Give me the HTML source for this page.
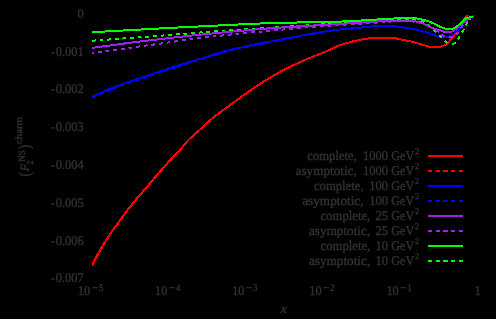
<!DOCTYPE html>
<html>
<head>
<meta charset="utf-8">
<title>plot</title>
<style>
html,body{margin:0;padding:0;background:#000;}
body{width:496px;height:319px;overflow:hidden;font-family:"Liberation Serif",serif;}
svg{display:block;}
.t{font-family:"Liberation Serif",serif;font-size:13.3px;fill:#363233;text-rendering:geometricPrecision;stroke:#363233;stroke-width:0.35px;}
.i{font-style:italic;}
.g{opacity:0.999;}
.c path,.c line{shape-rendering:crispEdges;}
</style>
</head>
<body>
<svg width="496" height="319" viewBox="0 0 496 319">
<rect width="496" height="319" fill="#000"/>
<g class="c">
<path d="M466 15h3v1h-3zM465 16h3v1h-3zM464 17h3v1h-3zM463 18h3v1h-3zM463 19h2v1h-2zM462 20h2v1h-2zM461 21h3v1h-3zM461 22h2v1h-2zM460 23h3v1h-3zM460 24h2v1h-2zM460 25h2v1h-2zM459 26h2v1h-2zM459 27h2v1h-2zM458 28h2v1h-2zM457 29h3v1h-3zM457 30h2v1h-2zM456 31h2v1h-2zM455 32h3v1h-3zM454 33h3v1h-3zM454 34h2v1h-2zM453 35h2v1h-2zM452 36h3v1h-3zM368 37h29v1h-29zM451 37h3v1h-3zM362 38h39v1h-39zM450 38h3v1h-3zM357 39h11v1h-11zM396 39h10v1h-10zM449 39h3v1h-3zM352 40h10v1h-10zM401 40h10v1h-10zM449 40h2v1h-2zM349 41h8v1h-8zM406 41h9v1h-9zM448 41h2v1h-2zM345 42h8v1h-8zM411 42h7v1h-7zM447 42h3v1h-3zM342 43h7v1h-7zM415 43h7v1h-7zM446 43h3v1h-3zM339 44h6v1h-6zM418 44h7v1h-7zM444 44h4v1h-4zM336 45h6v1h-6zM421 45h8v1h-8zM441 45h5v1h-5zM334 46h5v1h-5zM425 46h19v1h-19zM332 47h5v1h-5zM428 47h13v1h-13zM330 48h5v1h-5zM328 49h5v1h-5zM326 50h5v1h-5zM323 51h5v1h-5zM321 52h5v1h-5zM318 53h6v1h-6zM316 54h5v1h-5zM313 55h6v1h-6zM311 56h5v1h-5zM308 57h5v1h-5zM306 58h5v1h-5zM303 59h5v1h-5zM301 60h5v1h-5zM299 61h5v1h-5zM297 62h5v1h-5zM295 63h4v1h-4zM292 64h5v1h-5zM290 65h5v1h-5zM288 66h5v1h-5zM286 67h5v1h-5zM284 68h5v1h-5zM282 69h5v1h-5zM280 70h5v1h-5zM279 71h4v1h-4zM277 72h4v1h-4zM275 73h4v1h-4zM273 74h4v1h-4zM272 75h4v1h-4zM270 76h4v1h-4zM268 77h4v1h-4zM267 78h3v1h-3zM265 79h4v1h-4zM263 80h4v1h-4zM262 81h4v1h-4zM260 82h4v1h-4zM259 83h4v1h-4zM257 84h4v1h-4zM256 85h3v1h-3zM254 86h4v1h-4zM253 87h3v1h-3zM251 88h4v1h-4zM250 89h3v1h-3zM248 90h4v1h-4zM247 91h3v1h-3zM246 92h3v1h-3zM244 93h4v1h-4zM243 94h3v1h-3zM241 95h4v1h-4zM240 96h3v1h-3zM239 97h3v1h-3zM237 98h4v1h-4zM236 99h3v1h-3zM235 100h3v1h-3zM233 101h4v1h-4zM232 102h3v1h-3zM230 103h4v1h-4zM229 104h3v1h-3zM228 105h3v1h-3zM226 106h4v1h-4zM225 107h3v1h-3zM224 108h3v1h-3zM222 109h4v1h-4zM221 110h3v1h-3zM219 111h4v1h-4zM218 112h3v1h-3zM217 113h3v1h-3zM215 114h4v1h-4zM214 115h3v1h-3zM213 116h3v1h-3zM212 117h3v1h-3zM211 118h3v1h-3zM209 119h3v1h-3zM208 120h3v1h-3zM207 121h3v1h-3zM206 122h3v1h-3zM205 123h3v1h-3zM204 124h3v1h-3zM203 125h3v1h-3zM202 126h3v1h-3zM201 127h3v1h-3zM200 128h3v1h-3zM199 129h3v1h-3zM197 130h3v1h-3zM196 131h3v1h-3zM195 132h3v1h-3zM194 133h3v1h-3zM193 134h3v1h-3zM192 135h3v1h-3zM191 136h3v1h-3zM190 137h2v1h-2zM189 138h2v1h-2zM188 139h2v1h-2zM187 140h2v1h-2zM186 141h2v1h-2zM185 142h3v1h-3zM184 143h3v1h-3zM183 144h3v1h-3zM182 145h3v1h-3zM182 146h2v1h-2zM181 147h2v1h-2zM180 148h2v1h-2zM179 149h3v1h-3zM178 150h3v1h-3zM177 151h3v1h-3zM176 152h3v1h-3zM175 153h3v1h-3zM174 154h3v1h-3zM173 155h3v1h-3zM172 156h3v1h-3zM171 157h3v1h-3zM170 158h3v1h-3zM169 159h3v1h-3zM168 160h3v1h-3zM167 161h3v1h-3zM167 162h2v1h-2zM166 163h2v1h-2zM165 164h2v1h-2zM164 165h2v1h-2zM163 166h3v1h-3zM162 167h3v1h-3zM161 168h3v1h-3zM160 169h3v1h-3zM159 170h3v1h-3zM159 171h2v1h-2zM158 172h2v1h-2zM157 173h2v1h-2zM156 174h3v1h-3zM155 175h3v1h-3zM154 176h3v1h-3zM153 177h3v1h-3zM153 178h2v1h-2zM152 179h2v1h-2zM151 180h3v1h-3zM150 181h3v1h-3zM149 182h3v1h-3zM148 183h3v1h-3zM148 184h2v1h-2zM147 185h2v1h-2zM146 186h3v1h-3zM145 187h3v1h-3zM144 188h3v1h-3zM143 189h3v1h-3zM142 190h3v1h-3zM142 191h2v1h-2zM141 192h2v1h-2zM140 193h2v1h-2zM139 194h3v1h-3zM138 195h3v1h-3zM137 196h3v1h-3zM136 197h3v1h-3zM135 198h3v1h-3zM135 199h2v1h-2zM134 200h2v1h-2zM133 201h3v1h-3zM132 202h3v1h-3zM131 203h3v1h-3zM131 204h2v1h-2zM130 205h2v1h-2zM129 206h3v1h-3zM128 207h3v1h-3zM127 208h3v1h-3zM127 209h2v1h-2zM126 210h2v1h-2zM125 211h3v1h-3zM124 212h3v1h-3zM124 213h2v1h-2zM123 214h2v1h-2zM122 215h3v1h-3zM121 216h3v1h-3zM121 217h2v1h-2zM120 218h2v1h-2zM119 219h3v1h-3zM119 220h2v1h-2zM118 221h2v1h-2zM117 222h3v1h-3zM116 223h3v1h-3zM116 224h2v1h-2zM115 225h2v1h-2zM114 226h3v1h-3zM113 227h3v1h-3zM113 228h2v1h-2zM112 229h2v1h-2zM111 230h3v1h-3zM111 231h2v1h-2zM110 232h2v1h-2zM109 233h3v1h-3zM109 234h2v1h-2zM108 235h2v1h-2zM107 236h3v1h-3zM107 237h2v1h-2zM106 238h2v1h-2zM105 239h3v1h-3zM105 240h2v1h-2zM104 241h2v1h-2zM103 242h3v1h-3zM103 243h2v1h-2zM102 244h3v1h-3zM102 245h2v1h-2zM101 246h2v1h-2zM100 247h3v1h-3zM100 248h2v1h-2zM99 249h3v1h-3zM99 250h2v1h-2zM98 251h2v1h-2zM98 252h2v1h-2zM97 253h2v1h-2zM96 254h3v1h-3zM96 255h2v1h-2zM95 256h3v1h-3zM95 257h2v1h-2zM94 258h3v1h-3zM94 259h2v1h-2zM93 260h3v1h-3zM93 261h2v1h-2zM92 262h3v1h-3zM92 263h2v1h-2zM92 264h2v1h-2z" fill="#ff0000"/>
<path d="M466 15h3v1h-3zM465 16h3v1h-3zM466 17h1v1h-1zM462 20h2v1h-2zM461 21h3v1h-3zM461 22h2v1h-2zM461 23h2v1h-2zM459 27h2v1h-2zM458 28h2v1h-2zM457 29h3v1h-3zM458 30h1v1h-1zM454 33h2v1h-2zM454 34h2v1h-2zM453 35h2v1h-2zM453 36h2v1h-2zM368 37h3v1h-3zM375 37h4v1h-4zM382 37h4v1h-4zM390 37h4v1h-4zM362 38h1v1h-1zM367 38h4v1h-4zM375 38h4v1h-4zM382 38h4v1h-4zM390 38h4v1h-4zM398 38h3v1h-3zM360 39h3v1h-3zM367 39h1v1h-1zM397 39h4v1h-4zM405 39h1v1h-1zM449 39h2v1h-2zM352 40h4v1h-4zM360 40h2v1h-2zM405 40h4v1h-4zM449 40h2v1h-2zM352 41h4v1h-4zM406 41h3v1h-3zM413 41h2v1h-2zM448 41h2v1h-2zM345 42h4v1h-4zM352 42h1v1h-1zM412 42h4v1h-4zM449 42h1v1h-1zM345 43h4v1h-4zM415 43h1v1h-1zM420 43h2v1h-2zM339 44h2v1h-2zM420 44h4v1h-4zM444 44h1v1h-1zM337 45h4v1h-4zM421 45h2v1h-2zM427 45h2v1h-2zM442 45h4v1h-4zM338 46h1v1h-1zM427 46h4v1h-4zM435 46h3v1h-3zM442 46h2v1h-2zM332 47h2v1h-2zM428 47h3v1h-3zM435 47h3v1h-3zM330 48h5v1h-5zM331 49h2v1h-2zM326 50h1v1h-1zM323 51h5v1h-5zM324 52h2v1h-2zM318 53h2v1h-2zM316 54h5v1h-5zM317 55h2v1h-2zM311 56h2v1h-2zM309 57h5v1h-5zM310 58h1v1h-1zM304 59h2v1h-2zM302 60h4v1h-4zM303 61h1v1h-1zM297 62h2v1h-2zM295 63h5v1h-5zM296 64h1v1h-1zM291 65h1v1h-1zM289 66h4v1h-4zM289 67h2v1h-2zM283 69h3v1h-3zM282 70h3v1h-3zM282 71h1v1h-1zM277 72h2v1h-2zM275 73h4v1h-4zM275 74h3v1h-3zM270 76h2v1h-2zM269 77h3v1h-3zM269 78h2v1h-2zM264 80h2v1h-2zM262 81h4v1h-4zM262 82h2v1h-2zM258 84h1v1h-1zM256 85h4v1h-4zM256 86h2v1h-2zM252 88h1v1h-1zM250 89h3v1h-3zM249 90h3v1h-3zM250 91h1v1h-1zM245 93h2v1h-2zM243 94h4v1h-4zM244 95h1v1h-1zM239 97h1v1h-1zM238 98h3v1h-3zM237 99h3v1h-3zM232 102h2v1h-2zM231 103h3v1h-3zM231 104h2v1h-2zM227 106h1v1h-1zM225 107h4v1h-4zM225 108h2v1h-2zM225 109h1v1h-1zM220 111h2v1h-2zM219 112h3v1h-3zM219 113h2v1h-2zM215 115h1v1h-1zM213 116h3v1h-3zM212 117h3v1h-3zM213 118h1v1h-1zM209 120h1v1h-1zM208 121h3v1h-3zM207 122h3v1h-3zM203 125h1v1h-1zM202 126h3v1h-3zM201 127h3v1h-3zM202 128h1v1h-1zM197 131h2v1h-2zM196 132h3v1h-3zM196 133h1v1h-1zM192 135h1v1h-1zM191 136h3v1h-3zM190 137h3v1h-3zM190 138h2v1h-2zM186 141h2v1h-2zM185 142h3v1h-3zM184 143h3v1h-3zM181 147h2v1h-2zM180 148h3v1h-3zM180 149h2v1h-2zM176 152h1v1h-1zM175 153h3v1h-3zM175 154h2v1h-2zM175 155h1v1h-1zM171 158h2v1h-2zM170 159h3v1h-3zM169 160h3v1h-3zM170 161h1v1h-1zM166 163h1v1h-1zM165 164h3v1h-3zM164 165h3v1h-3zM164 166h2v1h-2zM161 169h1v1h-1zM160 170h3v1h-3zM159 171h3v1h-3zM160 172h1v1h-1zM156 175h1v1h-1zM155 176h2v1h-2zM154 177h3v1h-3zM155 178h1v1h-1zM151 181h2v1h-2zM150 182h2v1h-2zM149 183h2v1h-2zM150 184h1v1h-1zM146 186h1v1h-1zM145 187h3v1h-3zM145 188h2v1h-2zM144 189h2v1h-2zM141 192h1v1h-1zM140 193h3v1h-3zM139 194h3v1h-3zM140 195h1v1h-1zM136 198h1v1h-1zM135 199h3v1h-3zM134 200h3v1h-3zM135 201h1v1h-1zM131 204h2v1h-2zM130 205h3v1h-3zM129 206h3v1h-3zM130 207h1v1h-1zM126 210h2v1h-2zM126 211h2v1h-2zM125 212h2v1h-2zM126 213h1v1h-1zM122 216h1v1h-1zM121 217h3v1h-3zM120 218h3v1h-3zM121 219h1v1h-1zM118 222h1v1h-1zM117 223h2v1h-2zM116 224h3v1h-3zM116 225h2v1h-2zM113 228h1v1h-1zM112 229h3v1h-3zM112 230h2v1h-2zM111 231h2v1h-2zM108 235h2v1h-2zM108 236h2v1h-2zM107 237h2v1h-2zM108 238h1v1h-1zM104 241h2v1h-2zM104 242h2v1h-2zM103 243h3v1h-3zM103 244h2v1h-2zM100 248h3v1h-3zM100 249h2v1h-2zM99 250h2v1h-2zM100 251h1v1h-1zM97 254h1v1h-1zM96 255h3v1h-3zM96 256h2v1h-2zM95 257h3v1h-3zM93 261h2v1h-2zM93 262h2v1h-2zM92 263h2v1h-2zM92 264h2v1h-2zM92 265h1v1h-1z" fill="#ff0000"/>
<path d="M469 16h2v1h-2zM468 17h3v1h-3zM467 18h3v1h-3zM466 19h2v1h-2zM465 20h2v1h-2zM464 21h3v1h-3zM463 22h3v1h-3zM462 23h3v1h-3zM461 24h3v1h-3zM371 25h25v1h-25zM461 25h2v1h-2zM362 26h41v1h-41zM460 26h2v1h-2zM351 27h20v1h-20zM396 27h14v1h-14zM459 27h3v1h-3zM340 28h22v1h-22zM403 28h12v1h-12zM458 28h3v1h-3zM332 29h19v1h-19zM410 29h9v1h-9zM457 29h3v1h-3zM325 30h15v1h-15zM415 30h8v1h-8zM456 30h3v1h-3zM319 31h13v1h-13zM419 31h8v1h-8zM455 31h3v1h-3zM313 32h12v1h-12zM423 32h7v1h-7zM454 32h2v1h-2zM308 33h11v1h-11zM427 33h6v1h-6zM452 33h3v1h-3zM302 34h12v1h-12zM430 34h6v1h-6zM451 34h3v1h-3zM297 35h11v1h-11zM433 35h6v1h-6zM449 35h4v1h-4zM291 36h11v1h-11zM435 36h16v1h-16zM286 37h11v1h-11zM438 37h11v1h-11zM281 38h11v1h-11zM276 39h10v1h-10zM271 40h10v1h-10zM265 41h11v1h-11zM260 42h11v1h-11zM255 43h11v1h-11zM250 44h10v1h-10zM245 45h10v1h-10zM241 46h9v1h-9zM236 47h10v1h-10zM232 48h9v1h-9zM228 49h8v1h-8zM224 50h8v1h-8zM221 51h7v1h-7zM217 52h7v1h-7zM214 53h7v1h-7zM211 54h7v1h-7zM208 55h7v1h-7zM205 56h6v1h-6zM202 57h6v1h-6zM198 58h7v1h-7zM195 59h7v1h-7zM191 60h7v1h-7zM188 61h7v1h-7zM185 62h7v1h-7zM181 63h7v1h-7zM178 64h7v1h-7zM175 65h7v1h-7zM172 66h7v1h-7zM169 67h6v1h-6zM166 68h6v1h-6zM163 69h6v1h-6zM160 70h6v1h-6zM157 71h6v1h-6zM154 72h6v1h-6zM151 73h6v1h-6zM148 74h6v1h-6zM145 75h6v1h-6zM142 76h6v1h-6zM139 77h6v1h-6zM136 78h6v1h-6zM133 79h6v1h-6zM130 80h6v1h-6zM127 81h6v1h-6zM124 82h6v1h-6zM121 83h6v1h-6zM119 84h5v1h-5zM116 85h6v1h-6zM113 86h6v1h-6zM111 87h5v1h-5zM108 88h6v1h-6zM106 89h5v1h-5zM104 90h5v1h-5zM101 91h5v1h-5zM99 92h5v1h-5zM97 93h5v1h-5zM95 94h4v1h-4zM92 95h5v1h-5zM92 96h3v1h-3z" fill="#0000ff"/>
<path d="M469 16h2v1h-2zM470 17h1v1h-1zM465 20h2v1h-2zM464 21h3v1h-3zM464 22h2v1h-2zM372 25h4v1h-4zM380 25h4v1h-4zM387 25h4v1h-4zM395 25h1v1h-1zM365 26h3v1h-3zM372 26h4v1h-4zM380 26h4v1h-4zM387 26h4v1h-4zM395 26h4v1h-4zM460 26h2v1h-2zM357 27h4v1h-4zM365 27h4v1h-4zM396 27h3v1h-3zM403 27h3v1h-3zM459 27h3v1h-3zM342 28h4v1h-4zM349 28h4v1h-4zM357 28h4v1h-4zM403 28h3v1h-3zM410 28h4v1h-4zM459 28h2v1h-2zM334 29h4v1h-4zM342 29h4v1h-4zM350 29h3v1h-3zM410 29h4v1h-4zM418 29h1v1h-1zM327 30h4v1h-4zM334 30h4v1h-4zM418 30h3v1h-3zM321 31h2v1h-2zM327 31h4v1h-4zM419 31h2v1h-2zM425 31h2v1h-2zM455 31h2v1h-2zM319 32h4v1h-4zM425 32h4v1h-4zM454 32h2v1h-2zM312 33h4v1h-4zM319 33h2v1h-2zM427 33h2v1h-2zM453 33h2v1h-2zM304 34h4v1h-4zM312 34h3v1h-3zM432 34h4v1h-4zM298 35h2v1h-2zM304 35h4v1h-4zM433 35h3v1h-3zM449 35h1v1h-1zM297 36h4v1h-4zM440 36h3v1h-3zM447 36h4v1h-4zM289 37h4v1h-4zM297 37h2v1h-2zM439 37h4v1h-4zM447 37h2v1h-2zM283 38h3v1h-3zM289 38h4v1h-4zM282 39h4v1h-4zM274 40h4v1h-4zM282 40h1v1h-1zM268 41h3v1h-3zM274 41h4v1h-4zM267 42h4v1h-4zM259 43h4v1h-4zM267 43h1v1h-1zM253 44h3v1h-3zM259 44h4v1h-4zM252 45h4v1h-4zM244 46h4v1h-4zM252 46h1v1h-1zM239 47h2v1h-2zM245 47h3v1h-3zM237 48h4v1h-4zM230 49h3v1h-3zM237 49h2v1h-2zM230 50h4v1h-4zM223 51h3v1h-3zM222 52h4v1h-4zM216 53h3v1h-3zM215 54h4v1h-4zM210 55h1v1h-1zM215 55h2v1h-2zM208 56h4v1h-4zM208 57h2v1h-2zM201 58h3v1h-3zM200 59h4v1h-4zM194 60h3v1h-3zM193 61h4v1h-4zM187 62h2v1h-2zM193 62h1v1h-1zM186 63h4v1h-4zM181 64h1v1h-1zM186 64h2v1h-2zM178 65h4v1h-4zM179 66h2v1h-2zM171 67h4v1h-4zM171 68h4v1h-4zM165 69h3v1h-3zM164 70h4v1h-4zM159 71h1v1h-1zM164 71h2v1h-2zM157 72h4v1h-4zM157 73h3v1h-3zM150 74h3v1h-3zM150 75h4v1h-4zM144 76h2v1h-2zM150 76h1v1h-1zM142 77h4v1h-4zM138 78h1v1h-1zM143 78h2v1h-2zM135 79h4v1h-4zM135 80h4v1h-4zM130 81h2v1h-2zM128 82h4v1h-4zM128 83h2v1h-2zM121 84h3v1h-3zM121 85h3v1h-3zM116 86h1v1h-1zM121 86h1v1h-1zM113 87h4v1h-4zM114 88h2v1h-2zM109 89h1v1h-1zM106 90h5v1h-5zM107 91h2v1h-2zM102 92h1v1h-1zM99 93h5v1h-5zM100 94h2v1h-2zM95 95h1v1h-1zM93 96h3v1h-3zM92 97h3v1h-3z" fill="#0000ff"/>
<path d="M470 16h2v1h-2zM469 17h3v1h-3zM389 18h4v1h-4zM397 18h4v1h-4zM405 18h4v1h-4zM412 18h4v1h-4zM469 18h2v1h-2zM382 19h4v1h-4zM389 19h4v1h-4zM397 19h4v1h-4zM405 19h4v1h-4zM412 19h4v1h-4zM468 19h3v1h-3zM367 20h3v1h-3zM374 20h4v1h-4zM382 20h4v1h-4zM421 20h2v1h-2zM351 21h4v1h-4zM359 21h4v1h-4zM367 21h3v1h-3zM374 21h4v1h-4zM420 21h5v1h-5zM336 22h4v1h-4zM344 22h4v1h-4zM351 22h4v1h-4zM359 22h4v1h-4zM423 22h1v1h-1zM466 22h2v1h-2zM321 23h4v1h-4zM328 23h4v1h-4zM336 23h4v1h-4zM344 23h4v1h-4zM466 23h2v1h-2zM306 24h3v1h-3zM313 24h4v1h-4zM321 24h4v1h-4zM329 24h3v1h-3zM428 24h1v1h-1zM465 24h2v1h-2zM290 25h4v1h-4zM298 25h4v1h-4zM306 25h3v1h-3zM313 25h4v1h-4zM428 25h2v1h-2zM466 25h1v1h-1zM275 26h4v1h-4zM283 26h3v1h-3zM290 26h4v1h-4zM298 26h4v1h-4zM428 26h3v1h-3zM260 27h4v1h-4zM267 27h4v1h-4zM275 27h4v1h-4zM283 27h4v1h-4zM429 27h2v1h-2zM244 28h4v1h-4zM252 28h4v1h-4zM260 28h4v1h-4zM267 28h4v1h-4zM229 29h4v1h-4zM237 29h4v1h-4zM245 29h3v1h-3zM252 29h4v1h-4zM433 29h2v1h-2zM463 29h2v1h-2zM214 30h4v1h-4zM222 30h3v1h-3zM229 30h4v1h-4zM237 30h4v1h-4zM433 30h3v1h-3zM462 30h2v1h-2zM200 31h2v1h-2zM206 31h4v1h-4zM214 31h4v1h-4zM222 31h3v1h-3zM434 31h3v1h-3zM461 31h3v1h-3zM191 32h4v1h-4zM199 32h4v1h-4zM206 32h4v1h-4zM435 32h1v1h-1zM462 32h1v1h-1zM176 33h4v1h-4zM183 33h4v1h-4zM191 33h4v1h-4zM199 33h1v1h-1zM163 34h1v1h-1zM168 34h4v1h-4zM176 34h4v1h-4zM184 34h3v1h-3zM153 35h4v1h-4zM161 35h3v1h-3zM168 35h4v1h-4zM439 35h2v1h-2zM138 36h3v1h-3zM145 36h4v1h-4zM153 36h4v1h-4zM161 36h2v1h-2zM439 36h3v1h-3zM458 36h2v1h-2zM123 37h3v1h-3zM130 37h4v1h-4zM138 37h4v1h-4zM145 37h4v1h-4zM440 37h2v1h-2zM458 37h2v1h-2zM109 38h2v1h-2zM115 38h4v1h-4zM122 38h4v1h-4zM130 38h4v1h-4zM457 38h3v1h-3zM95 39h1v1h-1zM100 39h3v1h-3zM107 39h4v1h-4zM115 39h4v1h-4zM458 39h1v1h-1zM92 40h4v1h-4zM100 40h3v1h-3zM107 40h2v1h-2zM445 40h1v1h-1zM92 41h3v1h-3zM444 41h3v1h-3zM445 42h3v1h-3zM454 42h2v1h-2zM446 43h1v1h-1zM452 43h4v1h-4zM452 44h2v1h-2z" fill="#00ff00"/>
<path d="M473 15h1v1h-1zM470 16h4v1h-4zM468 17h5v1h-5zM467 18h4v1h-4zM466 19h3v1h-3zM376 20h40v1h-40zM464 20h4v1h-4zM361 21h59v1h-59zM463 21h3v1h-3zM347 22h29v1h-29zM416 22h7v1h-7zM462 22h3v1h-3zM331 23h30v1h-30zM420 23h5v1h-5zM461 23h3v1h-3zM313 24h34v1h-34zM423 24h4v1h-4zM460 24h3v1h-3zM296 25h35v1h-35zM425 25h4v1h-4zM458 25h4v1h-4zM281 26h32v1h-32zM427 26h4v1h-4zM457 26h3v1h-3zM267 27h30v1h-30zM429 27h5v1h-5zM456 27h3v1h-3zM255 28h26v1h-26zM431 28h6v1h-6zM455 28h3v1h-3zM244 29h23v1h-23zM433 29h8v1h-8zM453 29h4v1h-4zM233 30h22v1h-22zM437 30h7v1h-7zM452 30h3v1h-3zM222 31h22v1h-22zM441 31h13v1h-13zM212 32h21v1h-21zM443 32h9v1h-9zM202 33h20v1h-20zM192 34h20v1h-20zM183 35h19v1h-19zM174 36h18v1h-18zM165 37h18v1h-18zM157 38h17v1h-17zM148 39h17v1h-17zM140 40h17v1h-17zM132 41h16v1h-16zM124 42h16v1h-16zM117 43h15v1h-15zM110 44h15v1h-15zM102 45h15v1h-15zM95 46h15v1h-15zM92 47h10v1h-10zM92 48h3v1h-3z" fill="#a020f0"/>
<path d="M467 19h1v1h-1zM390 20h3v1h-3zM397 20h4v1h-4zM405 20h3v1h-3zM412 20h2v1h-2zM466 20h2v1h-2zM377 21h1v1h-1zM381 21h4v1h-4zM389 21h4v1h-4zM397 21h4v1h-4zM405 21h3v1h-3zM412 21h2v1h-2zM416 21h3v1h-3zM465 21h3v1h-3zM366 22h4v1h-4zM374 22h4v1h-4zM382 22h3v1h-3zM389 22h2v1h-2zM413 22h1v1h-1zM416 22h4v1h-4zM465 22h2v1h-2zM346 23h1v1h-1zM351 23h3v1h-3zM358 23h4v1h-4zM366 23h4v1h-4zM374 23h3v1h-3zM419 23h1v1h-1zM424 23h1v1h-1zM335 24h4v1h-4zM343 24h4v1h-4zM351 24h4v1h-4zM358 24h4v1h-4zM423 24h5v1h-5zM462 24h1v1h-1zM320 25h4v1h-4zM328 25h3v1h-3zM335 25h4v1h-4zM343 25h3v1h-3zM425 25h2v1h-2zM462 25h2v1h-2zM305 26h3v1h-3zM312 26h4v1h-4zM320 26h4v1h-4zM328 26h3v1h-3zM429 26h2v1h-2zM461 26h2v1h-2zM297 27h4v1h-4zM305 27h3v1h-3zM312 27h4v1h-4zM429 27h4v1h-4zM460 27h3v1h-3zM283 28h2v1h-2zM289 28h4v1h-4zM297 28h4v1h-4zM431 28h2v1h-2zM274 29h4v1h-4zM282 29h3v1h-3zM289 29h4v1h-4zM436 29h1v1h-1zM266 30h4v1h-4zM274 30h4v1h-4zM282 30h1v1h-1zM435 30h4v1h-4zM251 31h4v1h-4zM259 31h3v1h-3zM266 31h4v1h-4zM436 31h3v1h-3zM243 32h4v1h-4zM251 32h4v1h-4zM259 32h3v1h-3zM438 32h1v1h-1zM457 32h2v1h-2zM231 33h1v1h-1zM235 33h4v1h-4zM243 33h4v1h-4zM456 33h3v1h-3zM222 34h2v1h-2zM228 34h4v1h-4zM236 34h3v1h-3zM441 34h2v1h-2zM456 34h2v1h-2zM213 35h3v1h-3zM220 35h4v1h-4zM228 35h3v1h-3zM441 35h4v1h-4zM205 36h4v1h-4zM213 36h3v1h-3zM220 36h2v1h-2zM443 36h2v1h-2zM449 36h4v1h-4zM197 37h4v1h-4zM205 37h4v1h-4zM449 37h4v1h-4zM189 38h4v1h-4zM197 38h4v1h-4zM182 39h4v1h-4zM190 39h3v1h-3zM175 40h3v1h-3zM182 40h4v1h-4zM168 41h2v1h-2zM174 41h4v1h-4zM161 42h2v1h-2zM167 42h3v1h-3zM174 42h1v1h-1zM153 43h2v1h-2zM159 43h4v1h-4zM167 43h1v1h-1zM146 44h1v1h-1zM151 44h4v1h-4zM159 44h2v1h-2zM139 45h1v1h-1zM144 45h4v1h-4zM151 45h3v1h-3zM136 46h4v1h-4zM144 46h2v1h-2zM128 47h4v1h-4zM136 47h3v1h-3zM121 48h4v1h-4zM129 48h3v1h-3zM113 49h4v1h-4zM121 49h4v1h-4zM105 50h4v1h-4zM113 50h4v1h-4zM98 51h4v1h-4zM106 51h3v1h-3zM92 52h2v1h-2zM98 52h4v1h-4zM92 53h2v1h-2z" fill="#a020f0"/>
<path d="M469 16h4v1h-4zM394 17h23v1h-23zM465 17h8v1h-8zM377 18h45v1h-45zM464 18h5v1h-5zM361 19h33v1h-33zM417 19h9v1h-9zM463 19h3v1h-3zM342 20h35v1h-35zM422 20h7v1h-7zM462 20h3v1h-3zM297 21h64v1h-64zM426 21h6v1h-6zM461 21h3v1h-3zM260 22h82v1h-82zM429 22h5v1h-5zM460 22h3v1h-3zM238 23h59v1h-59zM431 23h5v1h-5zM459 23h3v1h-3zM218 24h42v1h-42zM434 24h4v1h-4zM458 24h3v1h-3zM198 25h40v1h-40zM436 25h4v1h-4zM456 25h3v1h-3zM178 26h40v1h-40zM437 26h5v1h-5zM455 26h3v1h-3zM159 27h39v1h-39zM439 27h6v1h-6zM453 27h4v1h-4zM141 28h37v1h-37zM442 28h13v1h-13zM123 29h36v1h-36zM445 29h8v1h-8zM105 30h36v1h-36zM92 31h31v1h-31zM92 32h13v1h-13z" fill="#00ff00"/>
</g>
<g class="c">
<path d="M428 155h35v2h-35z" fill="#ff0000"/>
<path d="M428 170h4v2h-4zM436 170h4v2h-4zM443 170h5v2h-5zM451 170h4v2h-4zM459 170h4v2h-4z" fill="#ff0000"/>
<path d="M428 185h35v2h-35z" fill="#0000ff"/>
<path d="M428 200h4v2h-4zM436 200h4v2h-4zM443 200h5v2h-5zM451 200h4v2h-4zM459 200h4v2h-4z" fill="#0000ff"/>
<path d="M428 215h35v2h-35z" fill="#a020f0"/>
<path d="M428 230h4v2h-4zM436 230h4v2h-4zM443 230h5v2h-5zM451 230h4v2h-4zM459 230h4v2h-4z" fill="#a020f0"/>
<path d="M428 245h35v2h-35z" fill="#00ff00"/>
<path d="M428 260h4v2h-4zM436 260h4v2h-4zM443 260h5v2h-5zM451 260h4v2h-4zM459 260h4v2h-4z" fill="#00ff00"/>
</g>
<g class="g">
<text transform="translate(307.30,159.80) scale(0.94,1.0)" class="t" style="font-size:13.3px" textLength="52.77" lengthAdjust="spacingAndGlyphs">complete,</text>
<text transform="translate(388.10,159.80) scale(0.945,1.0)" class="t" style="font-size:13.3px" text-anchor="end">1000</text>
<text transform="translate(391.20,159.80) scale(0.91,1.0)" class="t" style="font-size:13.3px" textLength="25.27" lengthAdjust="spacingAndGlyphs">GeV</text>
<text transform="translate(414.90,153.80) scale(0.95,1.0)" class="t" style="font-size:8.6px">2</text>
<text transform="translate(295.60,174.80) scale(0.94,1.0)" class="t" style="font-size:13.3px" textLength="65.21" lengthAdjust="spacingAndGlyphs">asymptotic,</text>
<text transform="translate(388.10,174.80) scale(0.945,1.0)" class="t" style="font-size:13.3px" text-anchor="end">1000</text>
<text transform="translate(391.20,174.80) scale(0.91,1.0)" class="t" style="font-size:13.3px" textLength="25.27" lengthAdjust="spacingAndGlyphs">GeV</text>
<text transform="translate(414.90,168.80) scale(0.95,1.0)" class="t" style="font-size:8.6px">2</text>
<text transform="translate(313.95,189.80) scale(0.94,1.0)" class="t" style="font-size:13.3px" textLength="52.77" lengthAdjust="spacingAndGlyphs">complete,</text>
<text transform="translate(388.10,189.80) scale(0.945,1.0)" class="t" style="font-size:13.3px" text-anchor="end">100</text>
<text transform="translate(391.20,189.80) scale(0.91,1.0)" class="t" style="font-size:13.3px" textLength="25.27" lengthAdjust="spacingAndGlyphs">GeV</text>
<text transform="translate(414.90,183.80) scale(0.95,1.0)" class="t" style="font-size:8.6px">2</text>
<text transform="translate(302.25,204.80) scale(0.94,1.0)" class="t" style="font-size:13.3px" textLength="65.21" lengthAdjust="spacingAndGlyphs">asymptotic,</text>
<text transform="translate(388.10,204.80) scale(0.945,1.0)" class="t" style="font-size:13.3px" text-anchor="end">100</text>
<text transform="translate(391.20,204.80) scale(0.91,1.0)" class="t" style="font-size:13.3px" textLength="25.27" lengthAdjust="spacingAndGlyphs">GeV</text>
<text transform="translate(414.90,198.80) scale(0.95,1.0)" class="t" style="font-size:8.6px">2</text>
<text transform="translate(320.60,219.80) scale(0.94,1.0)" class="t" style="font-size:13.3px" textLength="52.77" lengthAdjust="spacingAndGlyphs">complete,</text>
<text transform="translate(388.10,219.80) scale(0.945,1.0)" class="t" style="font-size:13.3px" text-anchor="end">25</text>
<text transform="translate(391.20,219.80) scale(0.91,1.0)" class="t" style="font-size:13.3px" textLength="25.27" lengthAdjust="spacingAndGlyphs">GeV</text>
<text transform="translate(414.90,213.80) scale(0.95,1.0)" class="t" style="font-size:8.6px">2</text>
<text transform="translate(308.90,234.80) scale(0.94,1.0)" class="t" style="font-size:13.3px" textLength="65.21" lengthAdjust="spacingAndGlyphs">asymptotic,</text>
<text transform="translate(388.10,234.80) scale(0.945,1.0)" class="t" style="font-size:13.3px" text-anchor="end">25</text>
<text transform="translate(391.20,234.80) scale(0.91,1.0)" class="t" style="font-size:13.3px" textLength="25.27" lengthAdjust="spacingAndGlyphs">GeV</text>
<text transform="translate(414.90,228.80) scale(0.95,1.0)" class="t" style="font-size:8.6px">2</text>
<text transform="translate(320.60,249.80) scale(0.94,1.0)" class="t" style="font-size:13.3px" textLength="52.77" lengthAdjust="spacingAndGlyphs">complete,</text>
<text transform="translate(388.10,249.80) scale(0.945,1.0)" class="t" style="font-size:13.3px" text-anchor="end">10</text>
<text transform="translate(391.20,249.80) scale(0.91,1.0)" class="t" style="font-size:13.3px" textLength="25.27" lengthAdjust="spacingAndGlyphs">GeV</text>
<text transform="translate(414.90,243.80) scale(0.95,1.0)" class="t" style="font-size:8.6px">2</text>
<text transform="translate(308.90,264.80) scale(0.94,1.0)" class="t" style="font-size:13.3px" textLength="65.21" lengthAdjust="spacingAndGlyphs">asymptotic,</text>
<text transform="translate(388.10,264.80) scale(0.945,1.0)" class="t" style="font-size:13.3px" text-anchor="end">10</text>
<text transform="translate(391.20,264.80) scale(0.91,1.0)" class="t" style="font-size:13.3px" textLength="25.27" lengthAdjust="spacingAndGlyphs">GeV</text>
<text transform="translate(414.90,258.80) scale(0.95,1.0)" class="t" style="font-size:8.6px">2</text>
<text transform="translate(83.70,17.95) scale(0.935,1.0)" class="t" style="font-size:13.3px" text-anchor="end">0</text>
<text transform="translate(83.70,55.71) scale(0.935,1.0)" class="t" style="font-size:13.3px" text-anchor="end"><tspan letter-spacing="1">-</tspan>0.001</text>
<text transform="translate(83.70,93.47) scale(0.935,1.0)" class="t" style="font-size:13.3px" text-anchor="end"><tspan letter-spacing="1">-</tspan>0.002</text>
<text transform="translate(83.70,131.23) scale(0.935,1.0)" class="t" style="font-size:13.3px" text-anchor="end"><tspan letter-spacing="1">-</tspan>0.003</text>
<text transform="translate(83.70,168.99) scale(0.935,1.0)" class="t" style="font-size:13.3px" text-anchor="end"><tspan letter-spacing="1">-</tspan>0.004</text>
<text transform="translate(83.70,206.75) scale(0.935,1.0)" class="t" style="font-size:13.3px" text-anchor="end"><tspan letter-spacing="1">-</tspan>0.005</text>
<text transform="translate(83.70,244.51) scale(0.935,1.0)" class="t" style="font-size:13.3px" text-anchor="end"><tspan letter-spacing="1">-</tspan>0.006</text>
<text transform="translate(83.70,282.27) scale(0.935,1.0)" class="t" style="font-size:13.3px" text-anchor="end"><tspan letter-spacing="1">-</tspan>0.007</text>
<text transform="translate(78.00,294.90) scale(0.92,1.0)" class="t" style="font-size:13.3px">10</text>
<text transform="translate(91.90,290.80) scale(1.08,1.0)" class="t" style="font-size:9.9px">−</text>
<text transform="translate(98.90,290.80) scale(0.9,1.0)" class="t" style="font-size:9.9px">5</text>
<text transform="translate(155.10,294.90) scale(0.92,1.0)" class="t" style="font-size:13.3px">10</text>
<text transform="translate(169.00,290.80) scale(1.08,1.0)" class="t" style="font-size:9.9px">−</text>
<text transform="translate(176.00,290.80) scale(0.9,1.0)" class="t" style="font-size:9.9px">4</text>
<text transform="translate(232.20,294.90) scale(0.92,1.0)" class="t" style="font-size:13.3px">10</text>
<text transform="translate(246.10,290.80) scale(1.08,1.0)" class="t" style="font-size:9.9px">−</text>
<text transform="translate(253.10,290.80) scale(0.9,1.0)" class="t" style="font-size:9.9px">3</text>
<text transform="translate(309.30,294.90) scale(0.92,1.0)" class="t" style="font-size:13.3px">10</text>
<text transform="translate(323.20,290.80) scale(1.08,1.0)" class="t" style="font-size:9.9px">−</text>
<text transform="translate(330.20,290.80) scale(0.9,1.0)" class="t" style="font-size:9.9px">2</text>
<text transform="translate(386.40,294.90) scale(0.92,1.0)" class="t" style="font-size:13.3px">10</text>
<text transform="translate(400.30,290.80) scale(1.08,1.0)" class="t" style="font-size:9.9px">−</text>
<text transform="translate(407.30,290.80) scale(0.9,1.0)" class="t" style="font-size:9.9px">1</text>
<text transform="translate(477.50,294.90) scale(0.92,1.0)" class="t" style="font-size:13.3px" text-anchor="middle">1</text>
<text transform="translate(283.70,313.00) scale(1.1,1.0)" class="t i" style="font-size:13.3px" text-anchor="middle">x</text>
<g transform="rotate(-90)">
<text transform="translate(-176.40,30.30) scale(0.8,1.0)" class="t" style="font-size:16.6px">(</text>
<text transform="translate(-171.30,28.60) scale(0.93,1.0)" class="t i" style="font-size:12.7px">F</text>
<text transform="translate(-164.40,32.80) scale(0.92,1.0)" class="t" style="font-size:9.0px">2</text>
<text transform="translate(-161.80,24.60) scale(0.95,1.0)" class="t" style="font-size:9.5px">NS</text>
<text transform="translate(-149.30,30.30) scale(0.8,1.0)" class="t" style="font-size:16.6px">)</text>
<text transform="translate(-143.90,22.40) scale(1.12,1.0)" class="t" style="font-size:9.6px">charm</text>
</g>
</g>
</svg>
</body>
</html>
